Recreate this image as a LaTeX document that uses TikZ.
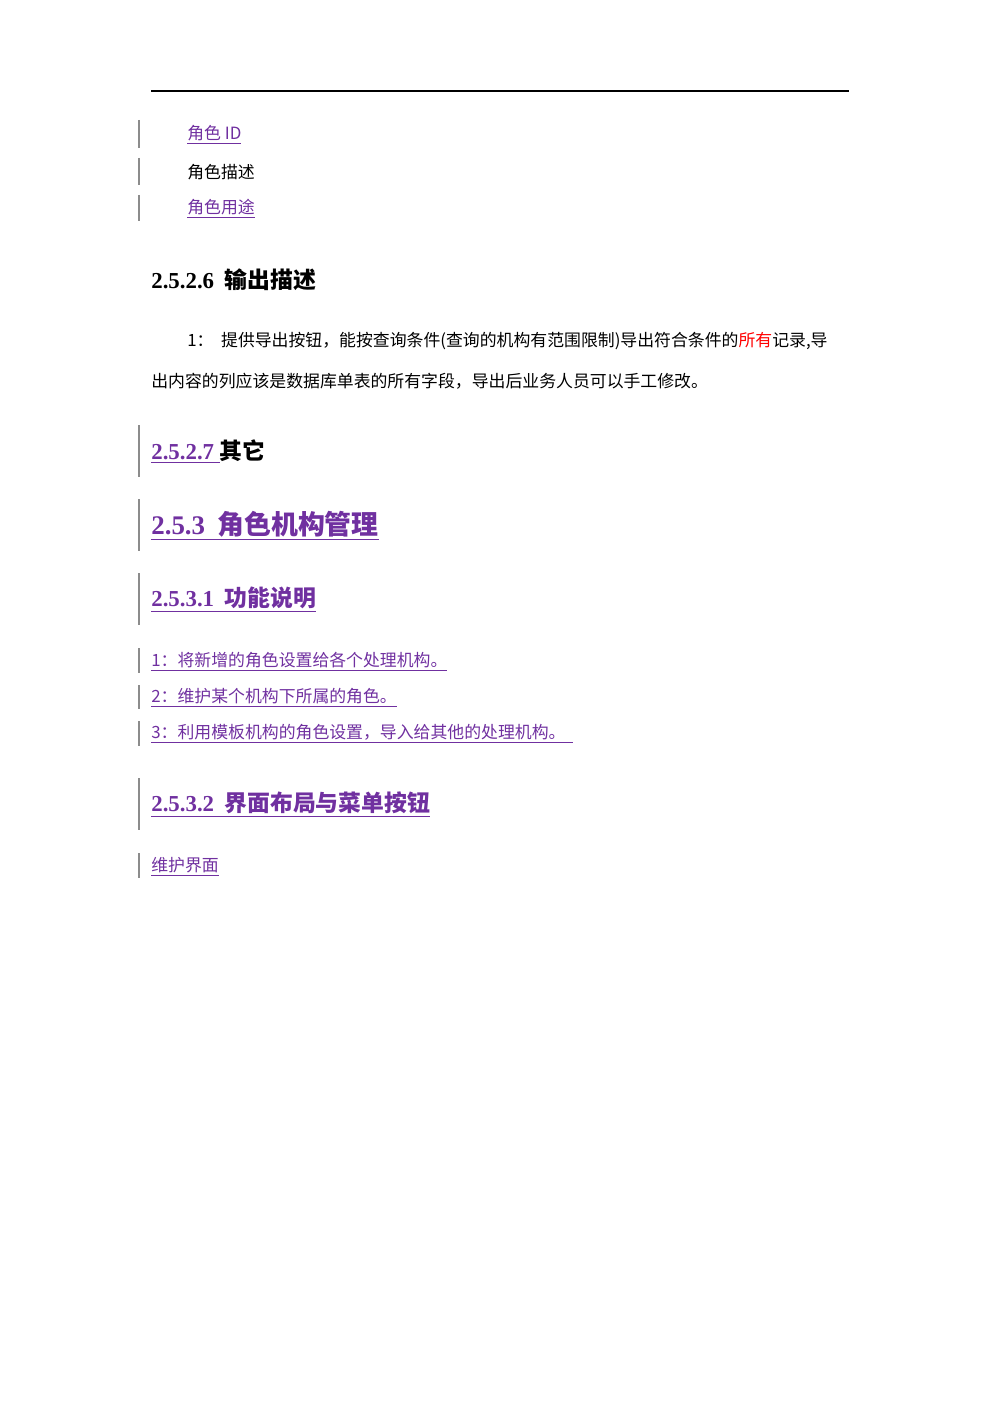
\documentclass[tikz,border=0pt]{standalone}
\usepackage{fontspec}
\setmainfont{Noto Sans CJK SC}
\newfontfamily\lat{Liberation Serif}
\definecolor{pur}{HTML}{7030A0}
\tikzset{txt/.style={anchor=west,inner sep=0pt,font=\fontsize{9.6pt}{11pt}\selectfont},
 hd/.style={anchor=west,inner sep=0pt,font=\fontsize{13pt}{15pt}\selectfont\bfseries},
 bar/.style={draw=black!45,line width=0.6pt}}
\begin{document}
\begin{tikzpicture}[x=0.02cm,y=-0.02cm]
\useasboundingbox (0,0) rectangle (1000,1415);
\draw[line width=0.8pt] (151,91) -- (849,91);
\foreach \a/\b in {120/148,158/185,195/221,425/477,499/551,573/625,648/673,685/709,721/746,778/830,853/878}
 \draw[bar] (139,\a) -- (139,\b);
\node[txt,text=pur] (t1) at (187,135) {\underline{角色 ID}};
\node[txt] (t2) at (187,172) {角色描述};
\node[txt,text=pur] (t3) at (187,209) {\underline{角色用途}};
\node[hd] (h1) at (151,280) {{\lat\bfseries 2.5.2.6}\ \ 输出描述};
\node[txt] (p1) at (187,341) {1：\ \ 提供导出按钮，能按查询条件(查询的机构有范围限制)导出符合条件的\textcolor{red}{所有}记录,导};
\node[txt] (p2) at (151,381) {出内容的列应该是数据库单表的所有字段，导出后业务人员可以手工修改。};
\node[hd] (h2) at (151,452) {\textcolor{pur}{\underline{\lat\bfseries 2.5.2.7\ }}其它};
\node[hd,font=\fontsize{15.3pt}{17pt}\selectfont\bfseries,text=pur] (h3) at (151,526) {\underline{{\lat\bfseries 2.5.3}\ \ 角色机构管理}};
\node[hd,text=pur] (h4) at (151,600) {\underline{{\lat\bfseries 2.5.3.1}\ \ 功能说明}};
\node[txt,text=pur] (l1) at (151,662) {\underline{1：将新增的角色设置给各个处理机构。}};
\node[txt,text=pur] (l2) at (151,698) {\underline{2：维护某个机构下所属的角色。}};
\node[txt,text=pur] (l3) at (151,734) {\underline{3：利用模板机构的角色设置，导入给其他的处理机构。\ \ }};
\node[hd,text=pur] (h5) at (151,805) {\underline{{\lat\bfseries 2.5.3.2}\ \ 界面布局与菜单按钮}};
\node[txt,text=pur] (l4) at (151,867) {\underline{维护界面}};
\end{tikzpicture}
\end{document}
